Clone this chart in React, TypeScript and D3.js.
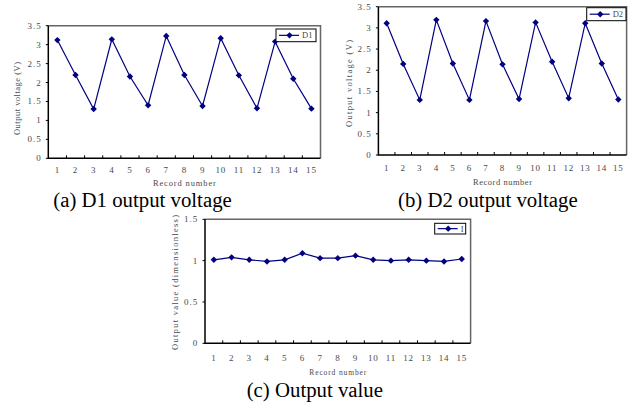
import React from "react";
import * as d3 from "d3";

const records = d3.range(1, 16).map(String);
const d1Values = [3.12, 2.2, 1.3, 3.14, 2.16, 1.4, 3.23, 2.2, 1.38, 3.17, 2.19, 1.32, 3.08, 2.1, 1.31];
const d2Values = [3.11, 2.15, 1.3, 3.19, 2.16, 1.3, 3.16, 2.14, 1.32, 3.13, 2.2, 1.34, 3.11, 2.16, 1.31];
const iValues = [1.01, 1.04, 1.01, 0.99, 1.01, 1.09, 1.03, 1.03, 1.06, 1.01, 1.0, 1.01, 1.0, 0.99, 1.02];
const voltTicks = [0, 0.5, 1, 1.5, 2, 2.5, 3, 3.5];
const valueTicks = [0, 0.5, 1, 1.5];

const SERIF = "'Liberation Serif', 'Times New Roman', serif";
const NAVY = "#000080";
const GREY = "#4a4a4a";
const diamond = (r: number) => `M0,${-r}L${r},0L0,${r}L${-r},0Z`;

type PanelProps = {
  values: number[];
  name: string;
  yTicks: number[];
  yTitle: string;
  box: { l: number; r: number; t: number; b: number };
  yTitleX: number;
  yTitleY: number;
  yTitleLen: number;
  xLabelY: number;
  xTitleY: number;
  xTitleLen: number;
  xTitleSize: number;
  yLabelGap: number;
  legend: { x: number; y: number; w: number; h: number };
};

function Panel(p: PanelProps) {
  const { box } = p;
  const x = d3.scaleBand<string>().domain(records).range([box.l, box.r]);
  const y = d3.scaleLinear().domain([0, d3.max(p.yTicks) as number]).range([box.b, box.t]);
  const cx = (d: string) => (x(d) as number) + x.bandwidth() / 2;
  const line = d3
    .line<number>()
    .x((_, i) => cx(records[i]))
    .y((v) => y(v));
  const bounds = records.slice(1).map((d) => x(d) as number);
  const lg = p.legend;
  return (
    <g>
      <rect x={box.l} y={box.t} width={box.r - box.l} height={box.b - box.t} fill="#fff" />
      <path d={`M${box.l},${box.t}H${box.r}V${box.b}`} fill="none" stroke="#666" strokeWidth={1.5} />
      <path d={`M${box.l},${box.t}V${box.b}H${box.r}`} fill="none" stroke="#000" strokeWidth={1.5} />
      {bounds.map((bx, i) => (
        <line key={i} x1={bx} x2={bx} y1={box.b} y2={box.b - 3} stroke="#000" strokeWidth={1} />
      ))}
      {p.yTicks.map((t) => (
        <g key={t}>
          <line x1={box.l - 2.5} x2={box.l} y1={y(t)} y2={y(t)} stroke="#000" strokeWidth={1} />
          <text
            x={box.l - p.yLabelGap}
            y={y(t)}
            textAnchor="end"
            dominantBaseline="central"
            fontFamily={SERIF}
            fontSize={9}
            letterSpacing={1}
            fill={GREY}
          >
            {String(t)}
          </text>
        </g>
      ))}
      {records.map((d) => (
        <text
          key={d}
          x={cx(d)}
          y={p.xLabelY}
          textAnchor="middle"
          dominantBaseline="central"
          fontFamily={SERIF}
          fontSize={9}
          letterSpacing={0.8}
          fill={GREY}
        >
          {d}
        </text>
      ))}
      <text
        x={(box.l + box.r) / 2 - p.xTitleLen / 2}
        y={p.xTitleY}
        dominantBaseline="central"
        fontFamily={SERIF}
        fontSize={p.xTitleSize}
        textLength={p.xTitleLen}
        lengthAdjust="spacing"
        fill={GREY}
      >
        Record number
      </text>
      <text
        transform={`translate(${p.yTitleX},${p.yTitleY + p.yTitleLen / 2}) rotate(-90)`}
        dominantBaseline="central"
        fontFamily={SERIF}
        fontSize={8.5}
        textLength={p.yTitleLen}
        lengthAdjust="spacing"
        fill={GREY}
      >
        {p.yTitle}
      </text>
      <path d={line(p.values) as string} fill="none" stroke={NAVY} strokeWidth={1.2} />
      {p.values.map((v, i) => (
        <path key={i} d={diamond(3.2)} transform={`translate(${cx(records[i])},${y(v)})`} fill={NAVY} />
      ))}
      <rect x={lg.x} y={lg.y} width={lg.w} height={lg.h} fill="#fff" stroke="#000" strokeWidth={1} />
      <line
        x1={lg.x + 3}
        x2={lg.x + 23}
        y1={lg.y + lg.h / 2}
        y2={lg.y + lg.h / 2}
        stroke={NAVY}
        strokeWidth={1.2}
      />
      <path d={diamond(3.2)} transform={`translate(${lg.x + 13.5},${lg.y + lg.h / 2})`} fill={NAVY} />
      <text
        x={lg.x + 26}
        y={lg.y + lg.h / 2}
        dominantBaseline="central"
        fontFamily={SERIF}
        fontSize={8.5}
        fill={GREY}
      >
        {p.name}
      </text>
    </g>
  );
}

export default function App() {
  return (
    <svg
      width={632}
      height={405}
      style={{ position: "absolute", left: 0, top: 0, background: "#fff" }}
    >
      <rect width={632} height={405} fill="#fff" />
      <Panel
        values={d1Values}
        name="D1"
        yTicks={voltTicks}
        yTitle="Output voltage (V)"
        box={{ l: 48.3, r: 320.5, t: 25.7, b: 158.3 }}
        yTitleX={17.3}
        yTitleY={98.5}
        yTitleLen={73}
        xLabelY={170}
        xTitleY={183.3}
        xTitleLen={63}
        xTitleSize={8.5}
        yLabelGap={6.5}
        legend={{ x: 276, y: 29, w: 40, h: 12.7 }}
      />
      <Panel
        values={d2Values}
        name="D2"
        yTicks={voltTicks}
        yTitle="Output voltage (V)"
        box={{ l: 378.4, r: 626.6, t: 6.7, b: 155 }}
        yTitleX={349.3}
        yTitleY={83.5}
        yTitleLen={87}
        xLabelY={168.3}
        xTitleY={182.3}
        xTitleLen={59}
        xTitleSize={8.5}
        yLabelGap={6.7}
        legend={{ x: 586.7, y: 7.7, w: 39.3, h: 13 }}
      />
      <Panel
        values={iValues}
        name="I"
        yTicks={valueTicks}
        yTitle="Output value (dimensionless)"
        box={{ l: 205, r: 470.6, t: 219.3, b: 343.3 }}
        yTitleX={175}
        yTitleY={282.5}
        yTitleLen={135}
        xLabelY={358.3}
        xTitleY={372.5}
        xTitleLen={57}
        xTitleSize={7.5}
        yLabelGap={6.7}
        legend={{ x: 434.7, y: 223.3, w: 31, h: 10.7 }}
      />
      <text x={53.3} y={207} fontFamily={SERIF} fontSize={20.8} fill="#000">
        (a) D1 output voltage
      </text>
      <text x={398} y={207} fontFamily={SERIF} fontSize={20.8} fill="#000">
        (b) D2 output voltage
      </text>
      <text x={246.7} y={397} fontFamily={SERIF} fontSize={20.8} fill="#000">
        (c) Output value
      </text>
    </svg>
  );
}
